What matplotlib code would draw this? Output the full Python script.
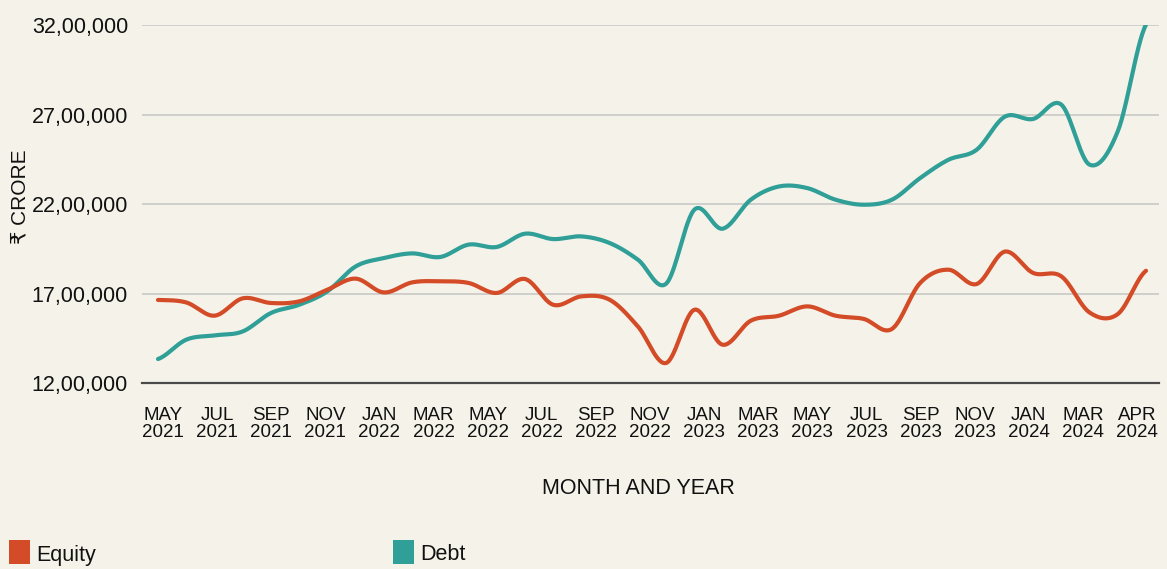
import numpy as np
import matplotlib
matplotlib.use("Agg")
import matplotlib.pyplot as plt
from matplotlib.patches import Rectangle

plt.rcParams['font.family'] = ['Liberation Sans', 'DejaVu Sans']

# ---- data (₹ crore, monthly May 2021 .. Apr 2024) ----
equity = [16.64, 16.50, 15.76, 16.73, 16.47, 16.56, 17.21, 17.83, 17.06, 17.62,
          17.68, 17.59, 17.03, 17.81, 16.37, 16.84, 16.65, 15.16, 13.12, 16.09,
          14.14, 15.48, 15.76, 16.28, 15.76, 15.58, 15.02, 17.59, 18.33, 17.53,
          19.34, 18.15, 17.96, 15.94, 15.85, 18.27]
debt = [13.34, 14.42, 14.66, 14.88, 15.91, 16.37, 17.12, 18.51, 18.98, 19.24,
        19.04, 19.73, 19.60, 20.34, 20.04, 20.19, 19.82, 18.89, 17.55, 21.68,
        20.62, 22.24, 22.98, 22.89, 22.24, 21.96, 22.24, 23.45, 24.47, 25.03,
        26.88, 26.75, 27.55, 24.20, 26.06, 32.02]
equity = [v * 1e5 for v in equity]
debt = [v * 1e5 for v in debt]

tick_labels = ["MAY\n2021", "JUL\n2021", "SEP\n2021", "NOV\n2021", "JAN\n2022",
               "MAR\n2022", "MAY\n2022", "JUL\n2022", "SEP\n2022", "NOV\n2022",
               "JAN\n2023", "MAR\n2023", "MAY\n2023", "JUL\n2023", "SEP\n2023",
               "NOV\n2023", "JAN\n2024", "MAR\n2024", "APR\n2024"]
y_ticks = [1200000, 1700000, 2200000, 2700000, 3200000]
series_names = ["Equity", "Debt"]
colors = ["#D34B27", "#2F9F97"]
BG = "#F5F3E9"


def catmull_rom(y, n=30):
    y = np.asarray(y, dtype=float)
    p = np.concatenate([[y[0]], y, [y[-1]]])
    xs, ys = [], []
    t = np.linspace(0, 1, n, endpoint=False)
    for i in range(len(y) - 1):
        p0, p1, p2, p3 = p[i], p[i + 1], p[i + 2], p[i + 3]
        m1 = (p2 - p0) / 2
        m2 = (p3 - p1) / 2
        h00 = 2 * t**3 - 3 * t**2 + 1
        h10 = t**3 - 2 * t**2 + t
        h01 = -2 * t**3 + 3 * t**2
        h11 = t**3 - t**2
        xs.append(i + t)
        ys.append(h00 * p1 + h10 * m1 + h01 * p2 + h11 * m2)
    xs.append([len(y) - 1])
    ys.append([y[-1]])
    return np.concatenate(xs), np.concatenate(ys)


def indian(v):
    s = str(int(round(v)))
    last3 = s[-3:]
    rest = s[:-3]
    parts = []
    while len(rest) > 2:
        parts.insert(0, rest[-2:])
        rest = rest[:-2]
    if rest:
        parts.insert(0, rest)
    return ",".join(parts + [last3])


W, H = 1167, 569
fig = plt.figure(figsize=(W / 100, H / 100), dpi=100, facecolor=BG)
ax = fig.add_axes([142 / W, (H - 383) / H, (1159 - 142) / W, (383 - 25) / H])
ax.set_facecolor(BG)

n = len(equity)
for vals, c in zip([debt, equity], [colors[1], colors[0]]):
    xs, ys = catmull_rom(vals)
    ax.plot(xs, ys, color=c, lw=3.0, solid_capstyle='round', zorder=3)

px_per = (1146 - 158) / (n - 1)
ax.set_xlim(-(158 - 142) / px_per, (n - 1) + (1159 - 1146) / px_per)
ax.set_ylim(y_ticks[0], y_ticks[-1])

ax.set_yticks(y_ticks)
ax.set_yticklabels([indian(v) for v in y_ticks], fontsize=15.5)
ax.grid(axis='y', color='#C8C8C6', lw=1.2, zorder=0)
ax.tick_params(axis='y', length=0, pad=10, labelcolor='#111111')

tick_pos = np.linspace((163 - 158) / px_per, (1137 - 158) / px_per, len(tick_labels))
ax.set_xticks(tick_pos)
ax.set_xticklabels(tick_labels, fontsize=13.5, linespacing=1.0)
ax.tick_params(axis='x', length=0, pad=17, labelcolor='#111111')

for s in ['top', 'right', 'left']:
    ax.spines[s].set_visible(False)
ax.spines['bottom'].set_color('#4A4A48')
ax.spines['bottom'].set_linewidth(1.6)
ax.spines['bottom'].set_zorder(4)

fig.text(638 / W, 1 - 488 / H, "MONTH AND YEAR", ha='center', va='center',
         fontsize=15.5, color='#111111')
fig.text(20 / W, 1 - 197 / H, "₹ CRORE", ha='center', va='center',
         rotation=90, fontsize=15, color='#111111')

# legend
for name, c, x0 in zip(series_names, colors, [9, 393]):
    fig.patches.append(Rectangle((x0 / W, 1 - 564 / H), 21 / W, 24 / H,
                                 transform=fig.transFigure, facecolor=c,
                                 edgecolor='none'))
    fig.text((x0 + 27) / W, 1 - 555 / H, name, ha='left', va='center',
             fontsize=15.5, color='#111111')

fig.savefig("out.png", dpi=100, facecolor=BG)
